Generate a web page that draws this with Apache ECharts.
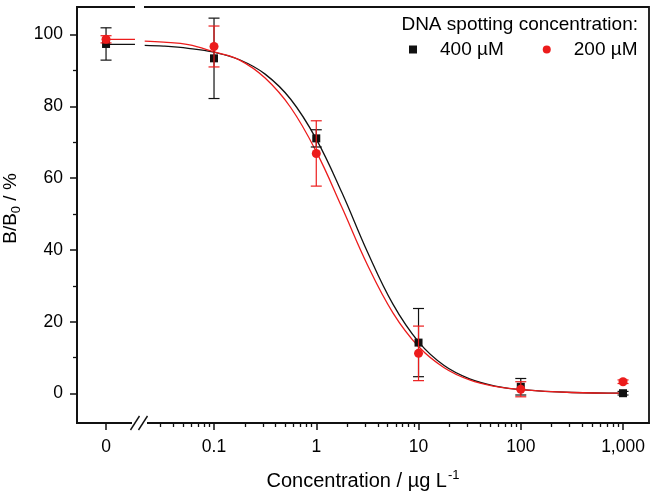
<!DOCTYPE html>
<html><head><meta charset="utf-8">
<script src="https://cdn.jsdelivr.net/npm/echarts@6/dist/echarts.min.js"></script>
<style>html,body{margin:0;padding:0;background:#fff}#c{width:657px;height:497px}</style>
</head><body><div id="c"></div>
<script>
// ---------- data ----------
const concentrations = [0, 0.1, 1, 10, 100, 1000];           // µg/L
const mean400 = [97.4, 93.4, 71.1, 14.2, 1.9, 0.1];
const err400  = [4.5, 11.2, 2.4, 9.5, 2.3, 0.5];
const mean200 = [98.7, 96.7, 66.9, 11.2, 1.2, 3.3];
const err200  = [1.0, 5.7, 9.1, 7.6, 2.1, 0.5];

// fitted curves
const fitConc = [0.021, 0.032, 0.056, 0.1, 0.178, 0.316, 0.562, 1, 1.78, 3.16, 5.62, 10, 17.8, 31.6, 56.2, 100, 316, 1000];
const fit400  = [97.0, 96.8, 96.2, 95.1, 93.0, 89.0, 82.0, 70.9, 56.0, 39.5, 24.9, 14.4, 7.8, 4.1, 2.1, 1.1, 0.3, 0.1];
const fit200  = [98.2, 97.9, 97.2, 95.2, 92.9, 87.9, 79.7, 67.4, 51.9, 35.9, 22.5, 13.1, 7.2, 3.8, 2.0, 1.1, 0.3, 0.1];
const fitZero400 = 97.3;   // curve level left of the axis break
const fitZero200 = 98.7;

const xTickConc   = [0, 0.1, 1, 10, 100, 1000];
const xTickLabels = ['0', '0.1', '1', '10', '100', '1,000'];
const xMinorConc  = [0.03,0.04,0.05,0.06,0.07,0.08,0.09, 0.2,0.3,0.4,0.5,0.6,0.7,0.8,0.9,
                     2,3,4,5,6,7,8,9, 20,30,40,50,60,70,80,90, 200,300,400,500,600,700,800,900];
const yTicks = [0, 20, 40, 60, 80, 100];
const yMinor = [10, 30, 50, 70, 90];

const legendTitle = 'DNA spotting concentration:';
const name400 = '400 µM';
const name200 = '200 µM';

// ---------- layout / style ----------
const FONT = "'Liberation Sans', Arial, Helvetica, sans-serif";
const BLACK = '#111111';
const RED = '#ec1c1c';
const ZERO_POS = -2.056;   // where "0" sits on the log-decade axis
const BREAK_POS = -1.729;  // centre of the axis break
const SEG_END = -1.773;    // end of the curve piece left of the break
const X_MIN = -2.34, X_MAX = 3.254, Y_MIN = -8.2, Y_MAX = 107.7;

function xPos(c) { return c === 0 ? ZERO_POS : Math.log10(c); }
const xTickPos = xTickConc.map(xPos);

function errRender(color) {
  return function (params, api) {
    const x = api.value(0), y = api.value(1), e = api.value(2);
    const t = api.coord([x, y + e]), b = api.coord([x, y - e]);
    const w = 5.5;
    const st = { stroke: color, lineWidth: 1.2 };
    return { type: 'group', children: [
      { type: 'line', shape: { x1: t[0], y1: t[1], x2: b[0], y2: b[1] }, style: st },
      { type: 'line', shape: { x1: t[0] - w, y1: t[1], x2: t[0] + w, y2: t[1] }, style: st },
      { type: 'line', shape: { x1: b[0] - w, y1: b[1], x2: b[0] + w, y2: b[1] }, style: st }
    ]};
  };
}

const chart = echarts.init(document.getElementById('c'), null, { renderer: 'canvas' });
const option = {
  animation: false,
  backgroundColor: '#fff',
  textStyle: { fontFamily: FONT },
  grid: { left: 77, right: 8, top: 7, bottom: 74, containLabel: false, outerBoundsMode: 'none',
          show: true, borderColor: BLACK, borderWidth: 1.8, backgroundColor: 'transparent' },
  title: {
    text: legendTitle, right: 19, top: 15, padding: 0,
    textStyle: { fontFamily: FONT, fontSize: 19, fontWeight: 'normal', color: '#000' }
  },
  legend: {
    data: [{ name: name400, icon: 'rect' }, { name: name200, icon: 'circle' }],
    left: 409, top: 40, padding: 0, itemWidth: 8, itemHeight: 8, itemGap: 39,
    textStyle: { fontFamily: FONT, fontSize: 19, color: '#000', padding: [0, 0, 0, 18] },
    selectedMode: false
  },
  xAxis: [{
    type: 'value', min: X_MIN, max: X_MAX, position: 'bottom',
    name: '{a|Concentration / µg L}{s|-1}', nameLocation: 'middle', nameGap: 46,
    nameTextStyle: { rich: {
      a: { fontFamily: FONT, fontSize: 20, color: '#000', lineHeight: 24, verticalAlign: 'middle' },
      s: { fontFamily: FONT, fontSize: 13, color: '#000', lineHeight: 24, verticalAlign: 'top', padding: [0, 0, 0, 1] }
    }},
    axisLine: { show: true, onZero: false, lineStyle: { color: BLACK, width: 1.8 } },
    axisTick: { show: true, inside: false, length: 7, customValues: xTickPos, lineStyle: { color: BLACK, width: 1.5 } },
    axisLabel: { show: true, margin: 15, fontSize: 17.5, color: '#000', fontFamily: FONT, customValues: xTickPos,
      formatter: function (v) {
        let best = 0;
        for (let i = 1; i < xTickPos.length; i++) if (Math.abs(xTickPos[i] - v) < Math.abs(xTickPos[best] - v)) best = i;
        return xTickLabels[best];
      } },
    splitLine: { show: false }
  }, {
    type: 'value', min: X_MIN, max: X_MAX, position: 'bottom',
    axisLine: { show: false, onZero: false },
    axisTick: { show: true, inside: false, length: 4, customValues: xMinorConc.map(xPos), lineStyle: { color: BLACK, width: 1.3 } },
    axisLabel: { show: false }, splitLine: { show: false }
  }],
  yAxis: [{
    type: 'value', min: Y_MIN, max: Y_MAX, position: 'left',
    name: '{a|B/B}{s|0}{a| / %}', nameLocation: 'middle', nameGap: 52, nameRotate: 90,
    nameTextStyle: { padding: [0, 0, 0, 13], rich: {
      a: { fontFamily: FONT, fontSize: 19, color: '#000', lineHeight: 24, verticalAlign: 'middle' },
      s: { fontFamily: FONT, fontSize: 13, color: '#000', lineHeight: 24, verticalAlign: 'bottom' }
    }},
    axisLine: { show: true, onZero: false, lineStyle: { color: BLACK, width: 1.8 } },
    axisTick: { show: true, inside: false, length: 7, customValues: yTicks, lineStyle: { color: BLACK, width: 1.5 } },
    axisLabel: { show: true, margin: 14, fontSize: 17.5, color: '#000', fontFamily: FONT, customValues: yTicks },
    splitLine: { show: false }
  }, {
    type: 'value', min: Y_MIN, max: Y_MAX, position: 'left',
    axisLine: { show: false, onZero: false },
    axisTick: { show: true, inside: false, length: 4, customValues: yMinor, lineStyle: { color: BLACK, width: 1.3 } },
    axisLabel: { show: false }, splitLine: { show: false }
  }],
  series: [
    { type: 'line', silent: true, showSymbol: false, z: 3, lineStyle: { color: BLACK, width: 1.3 },
      data: [[ZERO_POS, fitZero400], [SEG_END, fitZero400]] },
    { type: 'line', silent: true, showSymbol: false, smooth: 0.4, z: 3, lineStyle: { color: BLACK, width: 1.3 },
      data: fitConc.map((c, i) => [xPos(c), fit400[i]]) },
    { type: 'line', silent: true, showSymbol: false, z: 3, lineStyle: { color: RED, width: 1.3 },
      data: [[ZERO_POS, fitZero200], [SEG_END, fitZero200]] },
    { type: 'line', silent: true, showSymbol: false, smooth: 0.4, z: 3, lineStyle: { color: RED, width: 1.3 },
      data: fitConc.map((c, i) => [xPos(c), fit200[i]]) },
    { type: 'custom', silent: true, z: 4, renderItem: errRender(BLACK),
      data: concentrations.map((c, i) => [xPos(c), mean400[i], err400[i]]) },
    { type: 'scatter', name: name400, symbol: 'rect', symbolSize: 8, z: 5, itemStyle: { color: BLACK, opacity: 1 },
      data: concentrations.map((c, i) => [xPos(c), mean400[i]]) },
    { type: 'custom', silent: true, z: 6, renderItem: errRender(RED),
      data: concentrations.map((c, i) => [xPos(c), mean200[i], err200[i]]) },
    { type: 'scatter', name: name200, symbol: 'circle', symbolSize: 9, z: 7, itemStyle: { color: RED, opacity: 1 },
      data: concentrations.map((c, i) => [xPos(c), mean200[i]]) },
    { type: 'custom', silent: true, z: 20, clip: false,
      data: [[BREAK_POS]],
      renderItem: function (params, api) {
        const b = api.coord([api.value(0), Y_MIN]);
        const t = api.coord([api.value(0), Y_MAX]);
        const st = { stroke: BLACK, lineWidth: 1.4 };
        return { type: 'group', children: [
          { type: 'rect', shape: { x: t[0] - 4.5, y: t[1] - 3, width: 9, height: 6 }, style: { fill: '#fff' } },
          { type: 'rect', shape: { x: b[0] - 7.5, y: b[1] - 3, width: 15, height: 6 }, style: { fill: '#fff' } },
          { type: 'line', shape: { x1: b[0] - 9, y1: b[1] + 7, x2: b[0], y2: b[1] - 7 }, style: st },
          { type: 'line', shape: { x1: b[0] - 1, y1: b[1] + 7, x2: b[0] + 8, y2: b[1] - 7 }, style: st }
        ]};
      } }
  ]
};
chart.setOption(option);
</script></body></html>
